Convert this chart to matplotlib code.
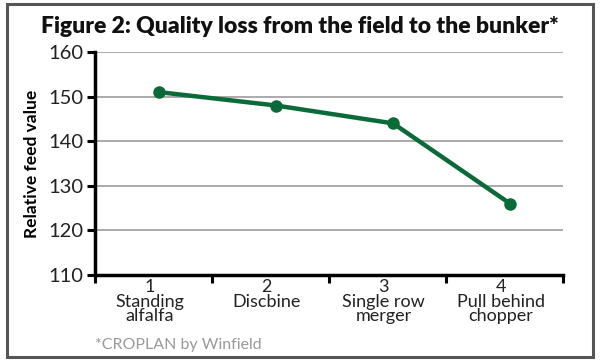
import matplotlib
matplotlib.use("Agg")
import matplotlib.pyplot as plt
from matplotlib.patches import Rectangle

steps = ["1\nStanding\nalfalfa", "2\nDiscbine", "3\nSingle row\nmerger", "4\nPull behind\nchopper"]
rfv = [151, 148, 144, 126]
yticks = [110, 120, 130, 140, 150, 160]

green = "#0b6b38"
fig = plt.figure(figsize=(6.0, 3.61), dpi=100)
fig.patches.append(Rectangle((0.012, 0.012), 0.976, 0.976, transform=fig.transFigure,
                             fill=False, edgecolor="#555555", linewidth=2.2))

ax = fig.add_axes([0.158, 0.238, 0.78, 0.618])
x = list(range(1, len(rfv) + 1))
ax.plot(x, rfv, color=green, linewidth=3.2, marker="o", markersize=8, solid_capstyle="round", zorder=3)

ax.set_ylim(110, 160)
ax.set_xlim(0.45, len(rfv) + 0.45)
ax.set_yticks(yticks)
ax.set_yticklabels([str(v) for v in yticks], fontsize=14.5, family="Lato", color="#222222")
ax.yaxis.grid(True, color="#aaaaaa", linewidth=1.4)
ax.set_axisbelow(True)

ax.set_xticks([i + 0.45 for i in range(0, len(rfv) + 1)])
ax.set_xticklabels([])
ax.set_xticks([i - 0.08 for i in x], minor=True)
ax.set_xticklabels(steps, minor=True, fontsize=13, family="Lato", linespacing=0.88, color="#222222")
ax.tick_params(axis="x", which="minor", length=0, pad=3)
ax.tick_params(axis="x", which="major", length=6, width=2.2, color="black")
ax.tick_params(axis="y", length=6, width=2.2, color="black", pad=2)

for s in ["top", "right"]:
    ax.spines[s].set_visible(False)
ax.spines["left"].set_linewidth(2.5)
ax.spines["bottom"].set_linewidth(2.5)

ax.set_ylabel("Relative feed value", fontsize=12.5, fontweight="bold", family="Lato", labelpad=6)

fig.text(0.5, 0.927, "Figure 2: Quality loss from the field to the bunker*", ha="center", va="center",
         fontsize=16.5, fontweight="heavy", family="Lato", color="#111111")
fig.text(0.158, 0.045, "*CROPLAN by Winfield", ha="left", va="center", fontsize=11.5,
         family="Lato", color="#999999")

fig.savefig("out.png", dpi=100)
